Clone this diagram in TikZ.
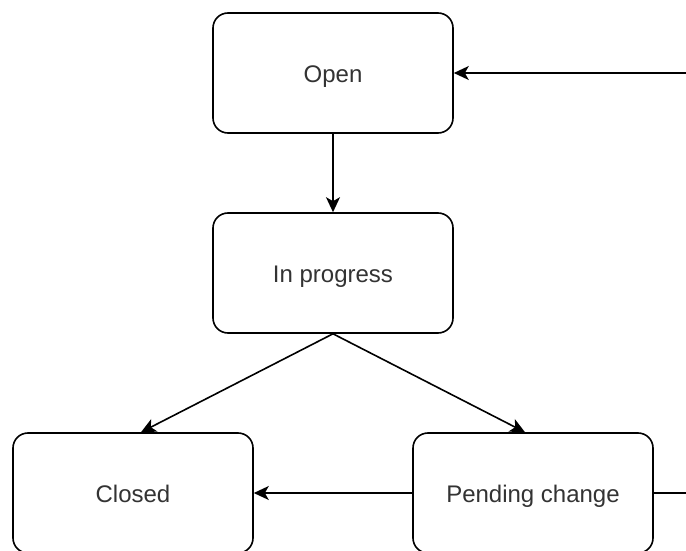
\documentclass[tikz,border=0pt]{standalone}
\usepackage{fontspec}
\setmainfont{Liberation Sans}
\usetikzlibrary{arrows.meta,calc}
\begin{document}
\begin{tikzpicture}[x=1pt,y=-1pt,
  state/.style={draw=black,line width=1.6pt,rounded corners=15pt,fill=white,
    minimum width=240pt,minimum height=120pt,inner sep=0pt,
    text height=19pt,text depth=0pt,
    font=\fontsize{24}{28}\selectfont,text=black!80},
  flow/.style={line width=1.6pt,draw=black,-{Stealth[length=15pt,width=14pt,inset=4pt]}},
  plain/.style={line width=1.6pt,draw=black}]
\useasboundingbox (0,0) rectangle (686,551);
\clip (0,0) rectangle (686,551);
\node[state] (open) at (333,73) {Open};
\node[state] (prog) at (333,273) {In progress};
\node[state] (closed) at (133,493) {Closed};
\node[state] (pend) at (533,493) {Pending change};
\coordinate (loop) at (720,493);
\draw[flow] (open.south) -- (prog.north);
\draw[flow] (prog.south) -- ($(closed.north)+(8,0)$);
\draw[flow] (prog.south) -- ($(pend.north)+(-8,0)$);
\draw[flow] (pend.west) -- (closed.east);
\draw[flow] (pend.east) -- (loop) |- (open.east);
\end{tikzpicture}
\end{document}
